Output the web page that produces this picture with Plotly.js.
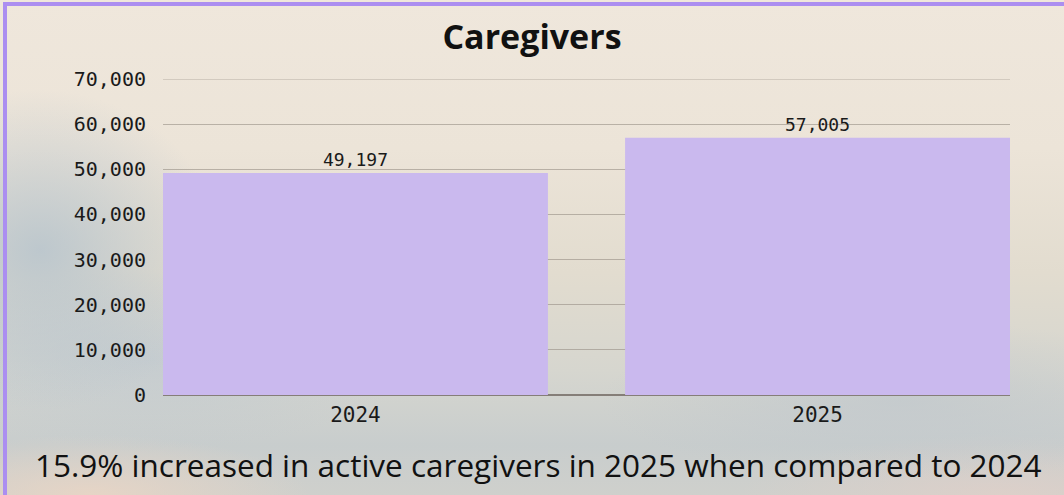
<!DOCTYPE html>
<html>
<head>
<meta charset="utf-8">
<script src="https://cdn.plot.ly/plotly-3.0.1.min.js"></script>
<style>
  html, body { margin: 0; padding: 0; }
  body {
    width: 1064px; height: 495px; overflow: hidden;
    /* cloudy sky backdrop */
    background:
      radial-gradient(ellipse 180px 160px at 40px 250px, rgba(176,192,204,0.75), rgba(176,192,204,0) 100%),
      radial-gradient(ellipse 260px 90px at 150px 360px, rgba(190,200,208,0.7), rgba(190,200,208,0) 100%),
      radial-gradient(ellipse 300px 80px at 900px 400px, rgba(190,198,205,0.6), rgba(190,198,205,0) 100%),
      radial-gradient(ellipse 220px 60px at 90px 495px, rgba(236,214,196,0.8), rgba(236,214,196,0) 100%),
      radial-gradient(ellipse 260px 60px at 1000px 495px, rgba(226,208,200,0.7), rgba(226,208,200,0) 100%),
      linear-gradient(180deg, #efe7dc 0%, #ece4d8 30%, #e2dccf 55%, #d6d6cf 75%, #c8cdcd 90%, #cfd0cc 100%);
  }
  #frame {
    position: absolute; left: 3px; top: 2px; right: 0; bottom: 0;
    border-top: 4px solid #ab8ef0; border-left: 4px solid #ab8ef0;
  }
  #plot { position: absolute; left: 0; top: 0; width: 1064px; height: 495px; }
</style>
</head>
<body>
<div id="frame"></div>
<div id="plot"></div>
<script>
// categories and values
let years = ['2024', '2025'];
let caregivers = [49197, 57005];
let yTicks = [0, 10000, 20000, 30000, 40000, 50000, 60000, 70000];
let yMax = 70000;

let monoFont = 'DejaVu Sans Mono, monospace';
let gridColor = 'rgba(150,142,132,0.6)';

let trace1 = {
    x: years,
    y: caregivers,
    type: 'bar',
    marker: {color: '#cab9ee'},
    text: caregivers.map(v => v.toLocaleString('en-US')),
    textposition: 'outside',
    textfont: {family: monoFont, size: 18, color: '#1a1a1a'},
    cliponaxis: false,
    hoverinfo: 'none'
};

// bars sit flush with the plot edges
let barGap = 0.167;
let half = (1 - barGap) / 2;

let layout = {
    width: 1064,
    height: 495,
    margin: {l: 163, r: 54, t: 79, b: 100},
    paper_bgcolor: 'rgba(0,0,0,0)',
    plot_bgcolor: 'rgba(0,0,0,0)',
    bargap: barGap,
    showlegend: false,
    title: {
        text: '<b>Caregivers</b>',
        font: {family: 'Open Sans, sans-serif', size: 34, color: '#111'},
        x: 0.5, xanchor: 'center',
        yref: 'container', y: 1 - 37 / 495, yanchor: 'middle'
    },
    xaxis: {
        type: 'category',
        range: [-half, 1 + half],
        showgrid: false,
        showline: false,
        zeroline: false,
        ticks: '',
        ticklabelstandoff: 5,
        tickfont: {family: monoFont, size: 21, color: '#1a1a1a'}
    },
    yaxis: {
        range: [0, yMax],
        tickvals: yTicks,
        tickformat: ',',
        showgrid: true,
        gridcolor: gridColor,
        gridwidth: 1,
        zeroline: true,
        zerolinecolor: '#857e78',
        zerolinewidth: 1.5,
        showline: false,
        ticks: '',
        ticklabelstandoff: 16,
        tickfont: {family: monoFont, size: 20, color: '#1a1a1a'}
    },
    // top gridline sits on the plot edge, plotly skips it
    shapes: [{
        type: 'line', layer: 'below',
        xref: 'paper', x0: 0, x1: 1,
        yref: 'y', y0: yMax, y1: yMax,
        line: {color: gridColor, width: 1}
    }],
    annotations: [{
        text: '15.9% increased in active caregivers in 2025 when compared to 2024',
        xref: 'paper', yref: 'paper',
        x: (538 - 163) / 847, y: (395 - 464) / 316,
        xanchor: 'center', yanchor: 'middle',
        showarrow: false,
        font: {family: 'Open Sans, sans-serif', size: 31.5, color: '#111'}
    }]
};

Plotly.newPlot('plot', [trace1], layout, {displayModeBar: false, staticPlot: true});
</script>
</body>
</html>
